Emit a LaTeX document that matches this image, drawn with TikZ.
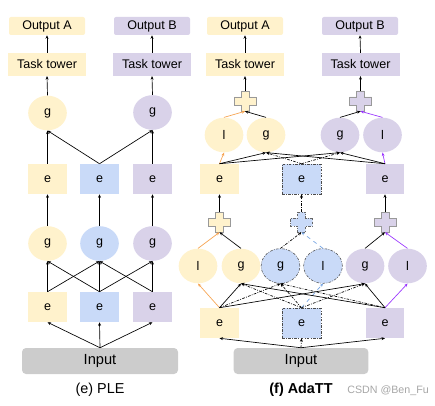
\documentclass[tikz,border=0pt]{standalone}
\usepackage{fontspec}
\setmainfont{Liberation Sans}
\usetikzlibrary{shapes.geometric,arrows.meta}
\definecolor{yel}{HTML}{FFF2CC}
\definecolor{blu}{HTML}{C9DAF8}
\definecolor{pur}{HTML}{D9D2E9}
\definecolor{ingray}{HTML}{CCCCCC}
\definecolor{orng}{HTML}{F6A24E}
\definecolor{violet}{HTML}{9933FF}
\definecolor{bluarr}{HTML}{6FA0E0}
\definecolor{crossline}{HTML}{999999}
\tikzset{
  lbl/.style={font=\fontsize{9.4}{11}\selectfont, inner sep=0pt},
  outbox/.style={lbl, rounded corners=1.5pt, minimum width=57pt, minimum height=13.5pt},
  tower/.style={lbl, minimum width=58.5pt, minimum height=17pt},
  expert/.style={lbl, minimum width=29pt, minimum height=22.5pt},
  gate/.style={lbl, ellipse, minimum width=29pt, minimum height=26pt},
  plusbox/.style={inner sep=0pt, minimum width=16.5pt, minimum height=15pt},
  inbox/.style={font=\fontsize{11}{13}\selectfont, inner sep=0pt, fill=ingray, rounded corners=3pt, minimum height=19.5pt},
  shared/.style={draw=black!70, dash pattern=on 2pt off 1pt on 0.6pt off 1pt},
  conn/.style={line width=0.5pt, ->, >={Stealth[length=2.6pt,width=2.2pt]}},
  dd/.style={conn, dash pattern=on 2pt off 1pt on 0.6pt off 1pt},
}
\newcommand\drawplus[2][]{%
  \draw[draw=crossline, line width=0.6pt, #1] ([shift={(-3pt,7.5pt)}]#2.center) -- ++(6pt,0) -- ++(0,-4.5pt)
    -- ++(5.25pt,0) -- ++(0,-6pt) -- ++(-5.25pt,0) -- ++(0,-4.5pt) -- ++(-6pt,0) -- ++(0,4.5pt)
    -- ++(-5.25pt,0) -- ++(0,6pt) -- ++(5.25pt,0) -- cycle;}
\begin{document}
\begin{tikzpicture}[x=0.75pt, y=-0.75pt]
    \useasboundingbox (0,0) rectangle (435,406);
    % (e) PLE
    \node[outbox, fill=yel] (pOutA) at (47,26) {Output A};
    \node[outbox, fill=pur] (pOutB) at (152,26) {Output B};
    \node[tower, fill=yel] (pTowA) at (47,64.5) {Task tower};
    \node[tower, fill=pur] (pTowB) at (152,64.5) {Task tower};
    \node[gate, fill=yel] (pG2A) at (47.5,113) {g};
    \node[gate, fill=pur] (pG2B) at (152.5,112.5) {g};
    \node[expert, fill=yel] (pE2A) at (47.5,179) {e};
    \node[expert, fill=blu] (pE2S) at (99.5,179) {e};
    \node[expert, fill=pur] (pE2B) at (152.5,179) {e};
    \node[gate, fill=yel] (pG1A) at (47.5,243.5) {g};
    \node[gate, fill=blu] (pG1S) at (99.5,243.5) {g};
    \node[gate, fill=pur] (pG1B) at (152.5,243.5) {g};
    \node[expert, fill=yel] (pE1A) at (47.5,307) {e};
    \node[expert, fill=blu] (pE1S) at (99.5,307) {e};
    \node[expert, fill=pur] (pE1B) at (152.5,307) {e};
    \node[inbox, minimum width=117pt] (pIn) at (100,361) {Input};
    \node[font=\fontsize{10.8}{13}\selectfont] (pCap) at (100,390) {(e) PLE};
    \foreach \e in {pE1A,pE1S,pE1B} \draw[conn] (pIn.north) -- (\e.south);
    \draw[conn] (pE1A.north) -- (pG1A.south);
    \draw[conn] (pE1A.north) -- (pG1S.south);
    \foreach \g in {pG1A,pG1S,pG1B} \draw[conn] (pE1S.north) -- (\g.south);
    \draw[conn] (pE1B.north) -- (pG1S.south);
    \draw[conn] (pE1B.north) -- (pG1B.south);
    \draw[conn] (pG1A.north) -- (pE2A.south);
    \draw[conn] (pG1S.north) -- (pE2S.south);
    \draw[conn] (pG1B.north) -- (pE2B.south);
    \draw[conn] (pE2A.north) -- (pG2A.south);
    \draw[conn] (pE2S.north) -- (pG2A.south);
    \draw[conn] (pE2S.north) -- (pG2B.south);
    \draw[conn] (pE2B.north) -- (pG2B.south);
    \draw[conn] (pG2A.north) -- (pTowA.south);
    \draw[conn] (pG2B.north) -- (pTowB.south);
    \draw[conn] (pTowA.north) -- (pOutA.south);
    \draw[conn] (pTowB.north) -- (pOutB.south);
    % (f) AdaTT
    \node[outbox, fill=yel] (aOutA) at (245,26) {Output A};
    \node[outbox, fill=pur] (aOutB) at (360,26) {Output B};
    \node[tower, fill=yel] (aTowA) at (245,64.5) {Task tower};
    \node[tower, fill=pur] (aTowB) at (360.5,64.5) {Task tower};
    \node[plusbox] (aP2A) at (245,101) {};
    \node[plusbox] (aP2B) at (360.5,101) {};
    \node[gate, fill=yel] (aL2A) at (224,135) {l};
    \node[gate, fill=yel] (aG2A) at (266,135) {g};
    \node[gate, fill=pur] (aG2B) at (340,135) {g};
    \node[gate, fill=pur] (aL2B) at (382.5,135) {l};
    \node[expert, fill=yel] (aE2A) at (219.5,179) {e};
    \node[expert, fill=blu, shared] (aE2S) at (301.5,179) {e};
    \node[expert, fill=pur] (aE2B) at (385,179) {e};
    \node[plusbox] (aP1A) at (219.5,222) {};
    \node[plusbox] (aP1S) at (301.5,222) {};
    \node[plusbox] (aP1B) at (385,222) {};
    \node[gate, fill=yel] (aL1A) at (198,266) {l};
    \node[gate, fill=yel] (aG1A) at (241,266) {g};
    \node[gate, fill=blu, shared] (aG1S) at (280.5,266) {g};
    \node[gate, fill=blu, shared] (aL1S) at (323,266) {l};
    \node[gate, fill=pur] (aG1B) at (365,266) {g};
    \node[gate, fill=pur] (aL1B) at (407.5,266) {l};
    \node[expert, fill=yel] (aE1A) at (219.5,323) {e};
    \node[expert, fill=blu, shared] (aE1S) at (301.5,323) {e};
    \node[expert, fill=pur] (aE1B) at (385,323) {e};
    \node[inbox, minimum width=101pt] (aIn) at (301,361) {Input};
    \node[font=\fontsize{10.8}{13}\selectfont\bfseries] (aCap) at (301,390) {(f) AdaTT};
    \node[anchor=base west, text=black!35, font=\fontsize{8}{10}\selectfont] (aMark) at ([xshift=4pt]aCap.base east) {CSDN @Ben\_Fu};
    \drawplus[fill=yel]{aP2A}
    \drawplus[fill=pur]{aP2B}
    \drawplus[fill=yel]{aP1A}
    \drawplus[fill=blu, draw=black!60, dash pattern=on 2pt off 1pt on 0.6pt off 1pt]{aP1S}
    \drawplus[fill=pur]{aP1B}
    \foreach \e in {aE1A,aE1B} \draw[conn] (aIn.north) -- (\e.south);
    \draw[dd] (aIn.north) -- (aE1S.south);
    % first level
    \draw[conn, orng] (aE1A.north) -- (aL1A.south);
    \draw[conn] (aE1A.north) -- (aG1A.south);
    \draw[dd] (aE1A.north) -- (aG1S.south);
    \draw[conn] (aE1A.north) -- (aG1B.south);
    \draw[dd] (aE1S.north) -- (aG1A.south);
    \draw[dd] (aE1S.north) -- (aG1S.south);
    \draw[conn, bluarr, dashed] (aE1S.north) -- (aL1S.south);
    \draw[dd] (aE1S.north) -- (aG1B.south);
    \draw[conn, violet] (aE1B.north) -- (aL1B.south);
    \draw[conn] (aE1B.north) -- (aG1B.south);
    \draw[dd] (aE1B.north) -- (aG1S.south);
    \draw[conn] (aE1B.north) -- (aG1A.south);
    \draw[conn, orng] (aL1A.north) -- (aP1A.south);
    \draw[conn] (aG1A.north) -- (aP1A.south);
    \draw[dd] (aG1S.north) -- (aP1S.south);
    \draw[conn, bluarr, dashed] (aL1S.north) -- (aP1S.south);
    \draw[conn] (aG1B.north) -- (aP1B.south);
    \draw[conn, violet] (aL1B.north) -- (aP1B.south);
    \draw[conn] (aP1A.north) -- (aE2A.south);
    \draw[dd] (aP1S.north) -- (aE2S.south);
    \draw[conn] (aP1B.north) -- (aE2B.south);
    % second level
    \draw[conn, orng] (aE2A.north) -- (aL2A.south);
    \draw[conn] (aE2A.north) -- (aG2A.south);
    \draw[conn] (aE2A.north) -- (aG2B.south);
    \draw[dd] (aE2S.north) -- (aG2A.south);
    \draw[dd] (aE2S.north) -- (aG2B.south);
    \draw[conn, violet] (aE2B.north) -- (aL2B.south);
    \draw[conn] (aE2B.north) -- (aG2B.south);
    \draw[conn] (aE2B.north) -- (aG2A.south);
    \draw[conn, orng] (aL2A.north) -- (aP2A.south);
    \draw[conn] (aG2A.north) -- (aP2A.south);
    \draw[conn] (aG2B.north) -- (aP2B.south);
    \draw[conn, violet] (aL2B.north) -- (aP2B.south);
    \draw[conn] (aP2A.north) -- (aTowA.south);
    \draw[conn] (aP2B.north) -- (aTowB.south);
    \draw[conn] (aTowA.north) -- (aOutA.south);
    \draw[conn] (aTowB.north) -- (aOutB.south);
\end{tikzpicture}
\end{document}
